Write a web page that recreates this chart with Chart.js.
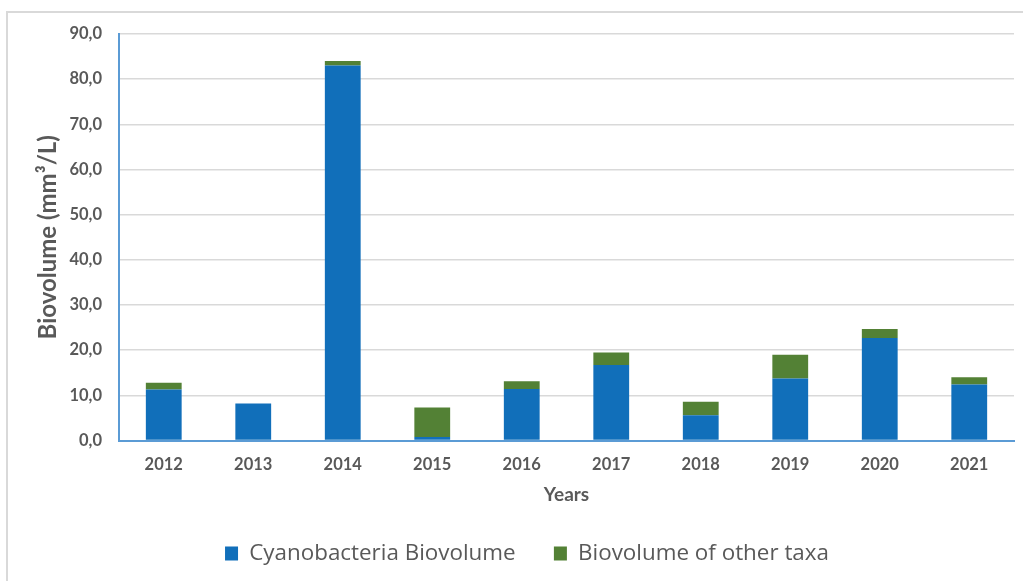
<!DOCTYPE html>
<html>
<head>
<meta charset="utf-8">
<script src="https://cdn.jsdelivr.net/npm/chart.js@4"></script>
<style>
  html, body { margin: 0; padding: 0; background: #ffffff; overflow: hidden; }
  #frame {
    position: absolute; left: 6px; top: 11px; width: 1100px; height: 700px;
    border-left: 2px solid #d9d9d9; border-top: 2px solid #d9d9d9;
  }
  #wrap { position: absolute; left: 0; top: 0; width: 1023px; height: 581px; }
</style>
</head>
<body>
<div id="frame"></div>
<div id="wrap"><canvas id="chart" width="1023" height="581"></canvas></div>
<script>
// Sampling years
const years = ['2012', '2013', '2014', '2015', '2016', '2017', '2018', '2019', '2020', '2021'];
// Cyanobacteria biovolume, mm3/L
const cyanobacteria = [11.3, 8.2, 83.0, 0.8, 11.4, 16.7, 5.6, 13.7, 22.7, 12.4];
// Biovolume of all other taxa, mm3/L
const otherTaxa = [1.5, 0.0, 1.0, 6.5, 1.7, 2.8, 3.0, 5.3, 2.0, 1.6];
// Y axis tick values
const yTicks = [0, 10, 20, 30, 40, 50, 60, 70, 80, 90];

const AXIS_FONT = "Lato, 'Open Sans', sans-serif";
const LEGEND_FONT = "'Open Sans', Lato, sans-serif";
const TEXT = '#595959';
const AXIS_LINE = '#5b9bd5';

// Nudges the bottom legend sideways after the layout pass.
const legendShift = {
  id: 'legendShift',
  afterLayout(chart, args, opts) {
    const lg = chart.legend;
    if (lg) { lg.left += opts.dx; lg.right += opts.dx; }
  }
};

new Chart(document.getElementById('chart'), {
  type: 'bar',
  data: {
    labels: years,
    datasets: [
      { label: 'Cyanobacteria Biovolume', data: cyanobacteria, backgroundColor: '#116fba', borderWidth: 0 },
      { label: 'Biovolume of other taxa', data: otherTaxa, backgroundColor: '#538135', borderWidth: 0 }
    ]
  },
  plugins: [legendShift],
  options: {
    responsive: false,
    animation: false,
    layout: { padding: { left: 0, right: 9, top: 34, bottom: 6.3 } },
    datasets: { bar: { barPercentage: 0.4, categoryPercentage: 1.0 } },
    plugins: {
      tooltip: { enabled: false },
      legendShift: { dx: 20 },
      legend: {
        position: 'bottom',
        labels: {
          color: TEXT,
          font: { family: LEGEND_FONT, size: 22.4 },
          boxWidth: 13, boxHeight: 14,
          padding: 38.3
        }
      }
    },
    scales: {
      x: {
        stacked: true,
        grid: { display: false, drawTicks: false },
        border: { color: AXIS_LINE, width: 2 },
        ticks: { color: TEXT, font: { family: AXIS_FONT, size: 16.5, weight: 'bold' }, padding: 14 },
        title: {
          display: true, text: 'Years', color: TEXT,
          font: { family: AXIS_FONT, size: 19, weight: 'bold' },
          padding: { top: 8, bottom: -2.4 }
        },
        afterFit: s => { s.height = 63.5; }
      },
      y: {
        stacked: true,
        min: 0, max: 90,
        afterBuildTicks: s => { s.ticks = yTicks.map(v => ({ value: v })); },
        grid: { color: '#d9d9d9', lineWidth: 1.5, drawTicks: false },
        border: { color: AXIS_LINE, width: 2 },
        ticks: {
          color: TEXT, font: { family: AXIS_FONT, size: 16.5, weight: 'bold' }, padding: 17,
          callback: v => v.toFixed(1).replace('.', ',')
        },
        title: {
          display: true, text: 'Biovolume (mm³/L)', color: TEXT,
          font: { family: AXIS_FONT, size: 24, weight: 'bold' },
          padding: { top: 34.1, bottom: 0 }
        },
        afterFit: s => { s.width = 119; }
      }
    }
  }
});
</script>
</body>
</html>
